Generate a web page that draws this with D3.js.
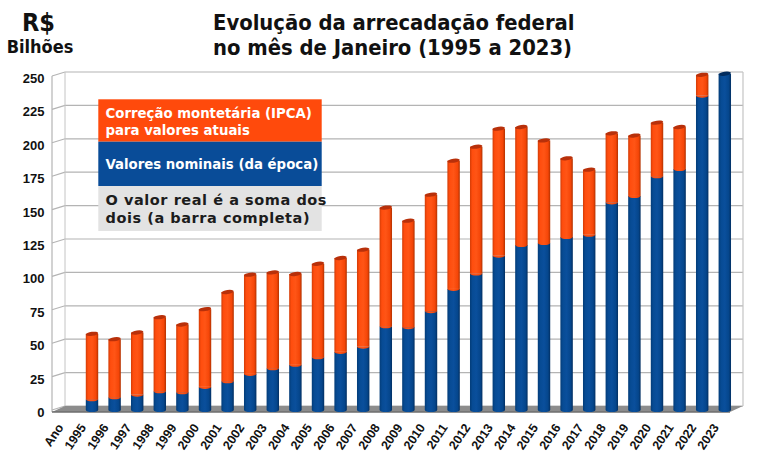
<!DOCTYPE html>
<html>
<head>
<meta charset="utf-8">
<script src="https://cdn.jsdelivr.net/npm/d3@7"></script>
<style>
	body { margin: 0; background: #fff; }
	svg { display: block; }
</style>
</head>
<body>
<div id="chart"></div>
<script>
// data (R$ bilhões, janeiro de cada ano)
var years = ['1995', '1996', '1997', '1998', '1999', '2000', '2001', '2002', '2003', '2004',
	'2005', '2006', '2007', '2008', '2009', '2010', '2011', '2012', '2013', '2014',
	'2015', '2016', '2017', '2018', '2019', '2020', '2021', '2022', '2023']
var nominal = [8, 9.5, 11.5, 14, 13.3, 17.3, 21.5, 27, 31.2, 33.8,
	39.4, 43.5, 47.4, 62.6, 62, 74, 90.6, 102.1, 115.5, 123.5,
	125, 129.5, 131.2, 155.4, 160.2, 174.9, 180.4, 235.3, 251.7]
var real = [57, 53, 58, 69.5, 64, 75.5, 88.3, 101.3, 103, 101.8,
	109.5, 113.8, 120, 151.5, 141.7, 161.2, 186.6, 197.1, 210.6, 211.8,
	201.8, 188.4, 179.9, 207.1, 205.4, 215.1, 211.8, 250.9, 251.7]
var yTicks = [0, 25, 50, 75, 100, 125, 150, 175, 200, 225, 250]
var categories = ['Ano'].concat(years)

var width = 768
var height = 460
var depthX = 13   // offset of the back wall
var depthY = -4
var frontX = 52
var rightX = 743

var svg = d3.select('#chart').append('svg')
	.attr('width', width)
	.attr('height', height)

var x = d3.scaleBand()
	.domain(categories)
	.range([58.1, 736.1])
	.paddingInner(0.45)
	.paddingOuter(0.225)

var y = d3.scaleLinear()
	.domain([0, 250])
	.range([410, 76])

// gradients for the cylinders
var defs = svg.append('defs')
function gradient(id, stops) {
	var g = defs.append('linearGradient').attr('id', id)
		.attr('x1', '0%').attr('x2', '100%').attr('y1', '0%').attr('y2', '0%')
	stops.forEach(function(s) {
		g.append('stop').attr('offset', s[0]).attr('stop-color', s[1])
	})
}
gradient('gOrange', [[0, '#d23c06'], [0.18, '#ff4d0e'], [0.5, '#ff5516'], [0.82, '#f54608'], [1, '#b23200']])
gradient('gBlue', [[0, '#033c78'], [0.2, '#074b94'], [0.5, '#0a4f9c'], [0.82, '#05468c'], [1, '#022f62']])

// walls and grid
var grid = svg.append('g')
grid.selectAll('.gridline')
	.data(yTicks)
	.enter().append('polyline')
		.attr('points', function(d) {
			return [frontX, y(d), frontX + depthX, y(d) + depthY, rightX, y(d) + depthY].join(' ')
		})
		.attr('fill', 'none')
		.attr('stroke', '#b4b4b4')
		.attr('stroke-width', 1.2)

grid.append('line')
	.attr('x1', frontX).attr('x2', frontX)
	.attr('y1', y(250)).attr('y2', y(0) + 2)
	.attr('stroke', '#b4b4b4').attr('stroke-width', 1.2)
grid.append('line')
	.attr('x1', frontX + depthX).attr('x2', frontX + depthX)
	.attr('y1', y(250) + depthY).attr('y2', y(0) + depthY)
	.attr('stroke', '#c4c4c4').attr('stroke-width', 1)
grid.append('line')
	.attr('x1', rightX).attr('x2', rightX)
	.attr('y1', y(250) + depthY).attr('y2', y(0) + depthY)
	.attr('stroke', '#c4c4c4').attr('stroke-width', 1.2)

// floor
svg.append('polygon')
	.attr('points', [
		[frontX, y(0) + 2], [rightX - depthX, y(0) + 2],
		[rightX, y(0) + depthY], [frontX + depthX, y(0) + depthY]
	].join(' '))
	.attr('fill', '#8c8c8c')
svg.append('line')
	.attr('x1', frontX).attr('x2', rightX - depthX)
	.attr('y1', y(0) + 2).attr('y2', y(0) + 2)
	.attr('stroke', '#6e6e6e').attr('stroke-width', 1.5)

// y labels
svg.append('g').selectAll('text')
	.data(yTicks)
	.enter().append('text')
		.attr('x', 44.5)
		.attr('y', function(d) { return y(d) + 2.5 })
		.attr('dy', '0.35em')
		.attr('text-anchor', 'end')
		.style('font-family', '"Liberation Sans", Arial, sans-serif')
		.style('font-weight', 'bold')
		.style('font-size', '13px')
		.attr('fill', '#111')
		.text(function(d) { return d })

// x labels
svg.append('g').selectAll('text')
	.data(categories)
	.enter().append('text')
		.attr('transform', function(d) {
			return 'translate(' + (x(d) + x.bandwidth() / 2 - 9) + ',' + 425 + ') rotate(-56)'
		})
		.attr('dy', '0.35em')
		.attr('text-anchor', 'end')
		.style('font-family', '"Liberation Sans", Arial, sans-serif')
		.style('font-weight', 'bold')
		.style('font-size', '12.5px')
		.attr('fill', '#111')
		.text(function(d) { return d })

// bars as cylinders
var bw = x.bandwidth()
var ry = 2
var rows = years.map(function(d, i) {
	return { year: d, nominal: nominal[i], real: real[i] }
})

var bar = svg.append('g').selectAll('.bar')
	.data(rows)
	.enter().append('g')
		.attr('class', 'bar')
		.attr('transform', function(d) { return 'translate(' + x(d.year) + ',0)' })

function lowerArc(yc) {
	return 'M0,' + yc + ' A' + (bw / 2) + ',' + ry + ' 0 0 0 ' + bw + ',' + yc + ' Z'
}

// blue part
bar.append('rect')
	.attr('x', 0).attr('width', bw)
	.attr('y', function(d) { return y(d.nominal) })
	.attr('height', function(d) { return y(0) - y(d.nominal) })
	.attr('fill', 'url(#gBlue)')
bar.append('path')
	.attr('d', function() { return lowerArc(y(0)) })
	.attr('fill', 'url(#gBlue)')

// orange part on top of blue
var orange = bar.filter(function(d) { return d.real - d.nominal > 0.5 })
orange.append('rect')
	.attr('x', 0).attr('width', bw)
	.attr('y', function(d) { return y(d.real) })
	.attr('height', function(d) { return y(d.nominal) - y(d.real) })
	.attr('fill', 'url(#gOrange)')
orange.append('path')
	.attr('d', function(d) { return lowerArc(y(d.nominal)) })
	.attr('fill', 'url(#gOrange)')

// top caps
bar.append('ellipse')
	.attr('cx', bw / 2)
	.attr('cy', function(d) { return y(d.real) })
	.attr('rx', bw / 2)
	.attr('ry', ry)
	.attr('transform', function(d) {
		return 'rotate(-8,' + (bw / 2) + ',' + y(d.real) + ')'
	})
	.attr('fill', function(d) { return d.real - d.nominal > 0.5 ? '#b8300a' : '#022c5e' })

// legend
var legend = svg.append('g')
var lx = 98.3
var lw = 223.4
legend.append('rect').attr('x', lx).attr('y', 99.3).attr('width', lw).attr('height', 42.4).attr('fill', '#ff4a0c')
legend.append('rect').attr('x', lx).attr('y', 141.7).attr('width', lw).attr('height', 44.3).attr('fill', '#094c98')
legend.append('rect').attr('x', lx).attr('y', 186).attr('width', lw).attr('height', 45).attr('fill', '#e3e3e3')

var legendText = [
	{ t: 'Correção montetária (IPCA)', y: 113, c: '#fff', s: 13.3, ls: 0 },
	{ t: 'para valores atuais', y: 130, c: '#fff', s: 13.3, ls: 0 },
	{ t: 'Valores nominais (da época)', y: 164.3, c: '#fff', s: 13.3, ls: 0 },
	{ t: 'O valor real é a soma dos', y: 200, c: '#1c1c1c', s: 14.5, ls: 0.55 },
	{ t: 'dois (a barra completa)', y: 218, c: '#1c1c1c', s: 14.5, ls: 0.55 }
]
legend.selectAll('text')
	.data(legendText)
	.enter().append('text')
		.attr('x', 105.5)
		.attr('y', function(d) { return d.y })
		.attr('dy', '0.35em')
		.attr('fill', function(d) { return d.c })
		.style('font-family', '"DejaVu Sans", Verdana, sans-serif')
		.style('font-weight', 'bold')
		.style('font-size', function(d) { return d.s + 'px' })
		.style('letter-spacing', function(d) { return d.ls + 'px' })
		.text(function(d) { return d.t })

// titles
var titleFont = '"DejaVu Sans Condensed", "DejaVu Sans", sans-serif'
svg.append('text')
	.attr('x', 38.5).attr('y', 22).attr('dy', '0.35em')
	.attr('text-anchor', 'middle')
	.style('font-family', titleFont).style('font-weight', 'bold').style('font-size', '25px')
	.attr('fill', '#111')
	.text('R$')
svg.append('text')
	.attr('x', 40).attr('y', 47).attr('dy', '0.35em')
	.attr('text-anchor', 'middle')
	.style('font-family', titleFont).style('font-weight', 'bold').style('font-size', '18px')
	.attr('fill', '#111')
	.text('Bilhões')
svg.append('text')
	.attr('x', 213).attr('y', 22).attr('dy', '0.35em')
	.style('font-family', titleFont).style('font-weight', 'bold').style('font-size', '21.8px')
	.attr('fill', '#111')
	.text('Evolução da arrecadação federal')
svg.append('text')
	.attr('x', 213).attr('y', 47).attr('dy', '0.35em')
	.style('font-family', titleFont).style('font-weight', 'bold').style('font-size', '21.8px')
	.attr('fill', '#111')
	.text('no mês de Janeiro (1995 a 2023)')
</script>
</body>
</html>
